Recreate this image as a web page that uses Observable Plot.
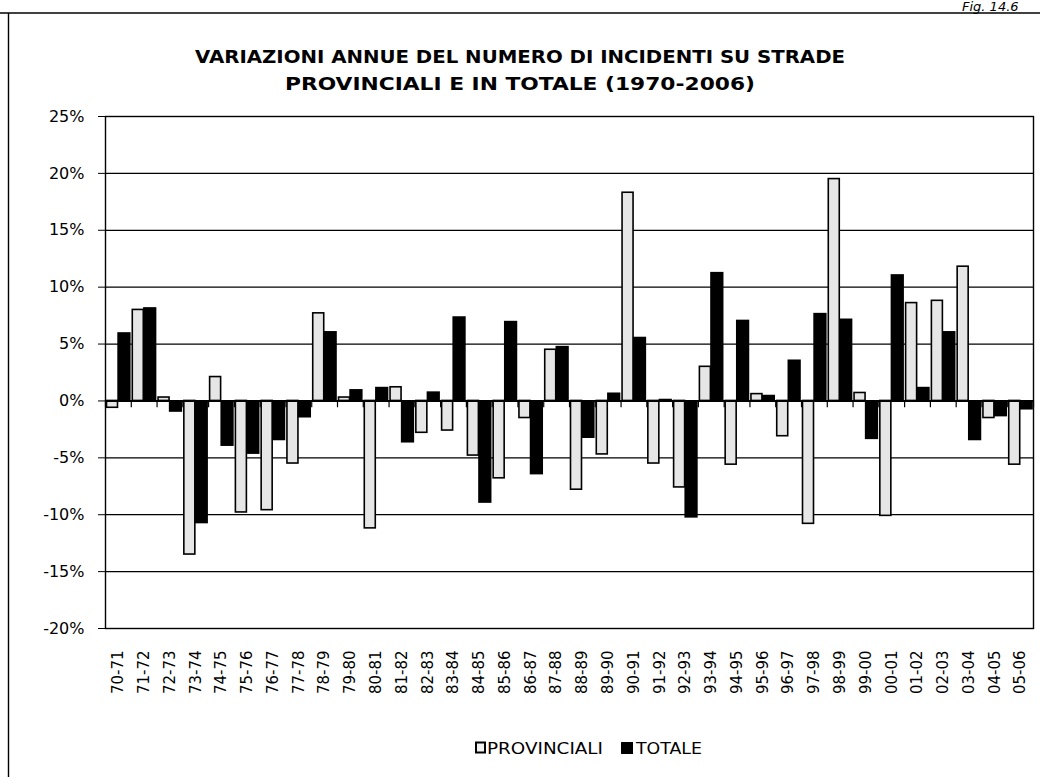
<!DOCTYPE html>
<html>
<head>
<meta charset="utf-8">
<script src="https://cdn.jsdelivr.net/npm/d3@7"></script>
<script src="https://cdn.jsdelivr.net/npm/@observablehq/plot@0.6"></script>
<style>
  html, body { margin: 0; padding: 0; background: #fff; }
  #wrap { position: relative; width: 1040px; height: 777px; overflow: hidden; background: #fff; }
  #chart, #overlay { position: absolute; left: 0; top: 0; }
</style>
</head>
<body>
<div id="wrap">
  <div id="chart"></div>
  <svg id="overlay" width="1040" height="777" xmlns="http://www.w3.org/2000/svg"></svg>
</div>
<script>
const categories = ["70-71","71-72","72-73","73-74","74-75","75-76","76-77","77-78","78-79","79-80",
  "80-81","81-82","82-83","83-84","84-85","85-86","86-87","87-88","88-89","89-90",
  "90-91","91-92","92-93","93-94","94-95","95-96","96-97","97-98","98-99","99-00",
  "00-01","01-02","02-03","03-04","04-05","05-06"];
const provinciali = [-0.6, 8.0, 0.3, -13.5, 2.1, -9.8, -9.6, -5.5, 7.7, 0.3,
  -11.2, 1.2, -2.8, -2.6, -4.8, -6.8, -1.5, 4.5, -7.8, -4.7,
  18.3, -5.5, -7.6, 3.0, -5.6, 0.6, -3.1, -10.8, 19.5, 0.7,
  -10.1, 8.6, 8.8, 11.8, -1.5, -5.6];
const totale = [6.0, 8.2, -1.0, -10.8, -4.0, -4.7, -3.5, -1.5, 6.1, 1.0,
  1.2, -3.7, 0.8, 7.4, -9.0, 7.0, -6.5, 4.8, -3.3, 0.7,
  5.6, 0.15, -10.3, 11.3, 7.1, 0.5, 3.6, 7.7, 7.2, -3.4,
  11.1, 1.2, 6.1, -3.5, -1.4, -0.8];
const yTicks = [-20, -15, -10, -5, 0, 5, 10, 15, 20, 25];
const titleLines = ["VARIAZIONI ANNUE DEL NUMERO DI INCIDENTI SU STRADE", "PROVINCIALI E IN TOTALE (1970-2006)"];
const seriesNames = ["PROVINCIALI", "TOTALE"];
const figLabel = "Fig. 14.6";

const rows = categories.map((c, i) => ({cat: c, p: provinciali[i], t: totale[i]}));

const W = 1040, H = 777;
const mL = 105, mR = 7, mT = 116, mB = 149;
const bw = (W - mL - mR) / categories.length;

const chart = Plot.plot({
  width: W, height: H,
  marginLeft: mL, marginRight: mR, marginTop: mT, marginBottom: mB,
  style: {fontFamily: "DejaVu Sans", fontSize: "15px", color: "black", background: "white"},
  x: {domain: categories, padding: 0, round: false, label: null, tickRotate: -90, tickSize: 0, tickPadding: 22},
  y: {domain: [-20, 25], ticks: yTicks, tickFormat: d => d + "%", label: null, tickSize: 7, tickPadding: 14},
  marks: [
    Plot.ruleY(yTicks, {stroke: "black", strokeWidth: 1.2}),
    Plot.barY(rows, {x: "cat", y: "p", fill: "#e6e6e6", stroke: "black", strokeWidth: 1.6, insetLeft: 1.5, insetRight: bw - 12.5}),
    Plot.barY(rows, {x: "cat", y: "t", fill: "black", insetLeft: 12.3, insetRight: 0.2}),
    Plot.ruleY([0], {stroke: "black", strokeWidth: 2}),
    Plot.ruleX(categories, {x: d => d, dx: -bw / 2, y1: 0, y2: -0.6, stroke: "black", strokeWidth: 1.2}),
    Plot.ruleX(categories.slice(-1), {x: d => d, dx: bw / 2, y1: 0, y2: -0.6, stroke: "black", strokeWidth: 1.2}),
    Plot.frame({stroke: "black", strokeWidth: 1.4})
  ]
});
document.getElementById("chart").appendChild(chart);
d3.select(chart).selectAll('[aria-label="y-axis tick label"] text').style("font-size", "16px");

// overlay: header, border, title, legend
const ov = d3.select("#overlay");
ov.append("line").attr("x1", 0).attr("x2", W).attr("y1", 13).attr("y2", 13).attr("stroke", "black").attr("stroke-width", 1.6);
ov.append("line").attr("x1", 8.5).attr("x2", 8.5).attr("y1", 13).attr("y2", H).attr("stroke", "black").attr("stroke-width", 1.4);
ov.append("text").attr("x", 962).attr("y", 11).attr("font-family", "DejaVu Sans").attr("font-style", "italic")
  .attr("font-size", 13).text(figLabel);

const tl = [{y: 63, len: 650}, {y: 90, len: 470}];
titleLines.forEach((s, i) => {
  ov.append("text").attr("x", 520 - tl[i].len / 2).attr("y", tl[i].y)
    .attr("font-family", "DejaVu Sans").attr("font-weight", "bold").attr("font-size", 17)
    .attr("textLength", tl[i].len).attr("lengthAdjust", "spacingAndGlyphs").text(s);
});

// legend
ov.append("rect").attr("x", 476).attr("y", 742.5).attr("width", 9).attr("height", 10)
  .attr("fill", "#f2f2f2").attr("stroke", "black").attr("stroke-width", 2);
ov.append("text").attr("x", 487).attr("y", 754).attr("font-family", "DejaVu Sans").attr("font-size", 16)
  .attr("textLength", 116).attr("lengthAdjust", "spacingAndGlyphs").text(seriesNames[0]);
ov.append("rect").attr("x", 621).attr("y", 742).attr("width", 12).attr("height", 12).attr("fill", "black");
ov.append("text").attr("x", 636).attr("y", 754).attr("font-family", "DejaVu Sans").attr("font-size", 16)
  .attr("textLength", 66).attr("lengthAdjust", "spacingAndGlyphs").text(seriesNames[1]);
</script>
</body>
</html>
